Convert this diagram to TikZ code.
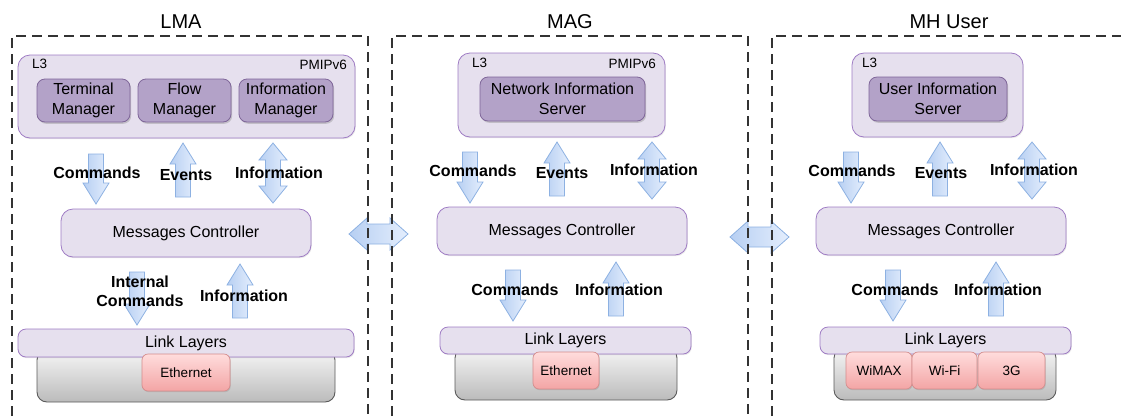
\documentclass[tikz,border=0pt]{standalone}
\usepackage{fontspec}
\setmainfont{Liberation Sans}
\usetikzlibrary{shadows}

\definecolor{l3fill}{HTML}{E6E0EE}
\definecolor{l3edge}{HTML}{9F7CC4}
\definecolor{modfill}{HTML}{B3A2C8}
\definecolor{modedge}{HTML}{7F6699}
\definecolor{arrowedge}{HTML}{8DB1E2}
\definecolor{arrowA}{HTML}{B7CFF2}
\definecolor{arrowB}{HTML}{E4EEFD}
\definecolor{pinkA}{HTML}{FFDCDC}
\definecolor{pinkB}{HTML}{F3A5A5}
\definecolor{pinkedge}{HTML}{D48C8C}
\definecolor{grayA}{HTML}{F6F6F6}
\definecolor{grayB}{HTML}{BBBBBB}
\definecolor{grayedge}{HTML}{5A5A5A}
\definecolor{dashcol}{HTML}{333333}

% block arrows: x, top/bottom tail, tip
\newcommand\FatDown[3]{\draw[flow] (#1-7.5,#2) -- (#1+7.5,#2) -- (#1+7.5,#3-21) -- (#1+13,#3-21) -- (#1,#3) -- (#1-13,#3-21) -- (#1-7.5,#3-21) -- cycle;}
\newcommand\FatUp[3]{\draw[flow] (#1-7.5,#2) -- (#1+7.5,#2) -- (#1+7.5,#3+21) -- (#1+13,#3+21) -- (#1,#3) -- (#1-13,#3+21) -- (#1-7.5,#3+21) -- cycle;}
% two-headed vertical arrow: x, top tip, bottom tip
\newcommand\FatBoth[3]{\draw[flow] (#1,#2) -- (#1+14,#2+17) -- (#1+7.5,#2+17) -- (#1+7.5,#3-17) -- (#1+14,#3-17) -- (#1,#3) -- (#1-14,#3-17) -- (#1-7.5,#3-17) -- (#1-7.5,#2+17) -- (#1-14,#2+17) -- cycle;}
% two-headed horizontal arrow: y, left tip, right tip
\newcommand\FatSide[3]{\draw[flow] (#2,#1) -- (#2+18,#1-16) -- (#2+18,#1-10) -- (#3-18,#1-10) -- (#3-18,#1-16) -- (#3,#1) -- (#3-18,#1+16) -- (#3-18,#1+10) -- (#2+18,#1+10) -- (#2+18,#1+16) -- cycle;}

\begin{document}
\begin{tikzpicture}[x=1pt,y=-1pt,
  frame/.style={draw=dashcol, line width=1.4pt, dash pattern=on 10pt off 6pt},
  title/.style={font=\fontsize{20}{24}\selectfont, text height=14.5pt, text depth=0pt},
  layerbox/.style={draw=l3edge, fill=l3fill, rounded corners=12pt, line width=0.8pt, inner sep=0pt,
    drop shadow={opacity=0.18, shadow xshift=0.8pt, shadow yshift=-1.2pt}},
  ctrl/.style={layerbox, font=\fontsize{16}{19}\selectfont},
  linkbar/.style={layerbox, rounded corners=8pt, font=\fontsize{16}{19}\selectfont},
  module/.style={draw=modedge, fill=modfill, rounded corners=8pt, line width=0.8pt, inner sep=0pt,
    align=center, font=\fontsize{16}{20}\selectfont,
    drop shadow={opacity=0.35, shadow xshift=1.2pt, shadow yshift=-1.8pt}},
  tech/.style={draw=pinkedge, top color=pinkA, bottom color=pinkB, rounded corners=6pt, line width=0.7pt,
    inner sep=0pt, font=\fontsize{13.5}{16}\selectfont,
    drop shadow={opacity=0.25, shadow xshift=0.8pt, shadow yshift=-1.2pt}},
  base/.style={draw=grayedge, top color=grayA, bottom color=grayB, rounded corners=10pt, line width=0.9pt, inner sep=0pt},
  small/.style={font=\fontsize{13.5}{16}\selectfont, inner sep=0pt},
  flow/.style={draw=arrowedge, left color=arrowA, right color=arrowB, line width=0.8pt, line join=miter},
  lbl/.style={font=\fontsize{16}{18}\bfseries\selectfont, inner sep=0pt, text height=11.5pt, text depth=0pt, align=center}
]
\useasboundingbox (0,0) rectangle (1121,416);

% ---------------- titles ----------------
\node[title] (tlma) at (181,21) {LMA};
\node[title] (tmag) at (570,21) {MAG};
\node[title] (tmh)  at (949,21) {MH User};

% ---------------- LMA ----------------
\node[layerbox, minimum width=337pt, minimum height=83pt] (lmal3) at (186.5,96.5) {};
\node[small, anchor=west] (lmal3t) at (32,64) {L3};
\node[small, anchor=east] (lmapm) at (347,65) {PMIPv6};
\node[module, minimum width=93pt, minimum height=43pt] (lmatm) at (83.5,100.5) {Terminal\\Manager};
\node[module, minimum width=93pt, minimum height=43pt] (lmafm) at (184.5,100.5) {Flow\\Manager};
\node[module, minimum width=94pt, minimum height=43pt] (lmaim) at (286,100.5) {Information\\Manager};

\node[ctrl, minimum width=250pt, minimum height=48pt] (lmamc) at (186,233) {Messages Controller};

\node[base, minimum width=298pt, minimum height=52pt] (lmabase) at (186,376) {};
\node[linkbar, minimum width=336pt, minimum height=28pt] (lmall) at (186,343) {Link Layers};
\node[tech, minimum width=88pt, minimum height=37pt] (lmaeth) at (186,372.5) {Ethernet};

\FatDown{96}{154}{204}
\FatUp{183}{197}{143}
\FatBoth{273}{143}{203}
\FatDown{137}{272}{325}
\FatUp{240}{318}{264}

\node[lbl] (lmacmd) at (97,173) {Commands};
\node[lbl] (lmaev) at (186,175) {Events};
\node[lbl] (lmainf) at (279,173) {Information};
\node[font=\fontsize{16}{19}\bfseries\selectfont, inner sep=0pt, align=center] (lmaint) at (140,291) {Internal\\Commands};
\node[lbl] (lmainf2) at (244,296) {Information};

% ---------------- MAG ----------------
\node[layerbox, minimum width=207pt, minimum height=84pt] (magl3) at (561.5,95) {};
\node[small, anchor=west] (magl3t) at (472,63) {L3};
\node[small, anchor=east] (magpm) at (656,64) {PMIPv6};
\node[module, minimum width=165pt, minimum height=44pt] (magnis) at (562.5,99) {Network Information\\Server};

\node[ctrl, minimum width=250pt, minimum height=48pt] (magmc) at (562,231) {Messages Controller};

\node[base, minimum width=222pt, minimum height=52pt] (magbase) at (566,374) {};
\node[linkbar, minimum width=251pt, minimum height=27pt] (magll) at (565.5,340.5) {Link Layers};
\node[tech, minimum width=66pt, minimum height=37pt] (mageth) at (566,370.5) {Ethernet};

\FatDown{470}{152}{203}
\FatUp{557}{196}{142}
\FatBoth{652}{142}{199}
\FatDown{513}{270}{321}
\FatUp{616}{316}{262}

\node[lbl] (magcmd) at (473,171) {Commands};
\node[lbl] (magev) at (562,173) {Events};
\node[lbl] (maginf) at (654,170) {Information};
\node[lbl] (magcmd2) at (515,290) {Commands};
\node[lbl] (maginf2) at (619,290) {Information};

% ---------------- MH User ----------------
\node[layerbox, minimum width=171pt, minimum height=84pt] (mhl3) at (937.5,95) {};
\node[small, anchor=west] (mhl3t) at (862,63) {L3};
\node[module, minimum width=138pt, minimum height=44pt] (mhuis) at (938,99) {User Information\\Server};

\node[ctrl, minimum width=250pt, minimum height=48pt] (mhmc) at (941,231) {Messages Controller};

\node[base, minimum width=222pt, minimum height=52pt] (mhbase) at (945,374) {};
\node[linkbar, minimum width=251pt, minimum height=27pt] (mhll) at (945.5,340.5) {Link Layers};
\node[tech, minimum width=66pt, minimum height=37pt] (mhwimax) at (879,370.5) {WiMAX};
\node[tech, minimum width=65pt, minimum height=37pt] (mhwifi) at (944.5,370.5) {Wi-Fi};
\node[tech, minimum width=67pt, minimum height=37pt] (mh3g) at (1011.5,370.5) {\raisebox{-2pt}{3G}};

\FatDown{851}{152}{203}
\FatUp{940}{196}{142}
\FatBoth{1032}{142}{199}
\FatDown{893}{270}{321}
\FatUp{996}{316}{262}

\node[lbl] (mhcmd) at (852,171) {Commands};
\node[lbl] (mhev) at (941,173) {Events};
\node[lbl] (mhinf) at (1034,170) {Information};
\node[lbl] (mhcmd2) at (895,290) {Commands};
\node[lbl] (mhinf2) at (998,290) {Information};

% ---------------- links between the entities ----------------
\FatSide{234}{349}{408}
\FatSide{237}{730}{789}

% ---------------- entity frames ----------------
\draw[frame] (12,416) -- (12,36) -- (368,36) -- (368,416);
\draw[frame] (392,416) -- (392,36) -- (748,36) -- (748,416);
\draw[frame] (772,416) -- (772,36) -- (1125,36);
\end{tikzpicture}
\end{document}
